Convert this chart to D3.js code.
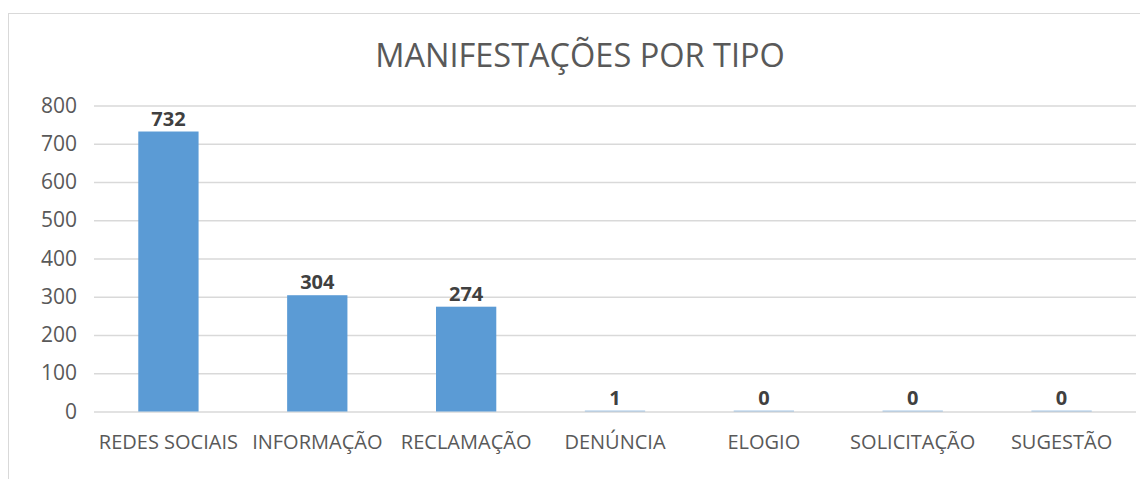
<!DOCTYPE html>
<html>
<head>
<meta charset="utf-8">
<script src="https://cdn.jsdelivr.net/npm/d3@7"></script>
<style>
  html, body { margin: 0; padding: 0; background: #fff; }
  svg { display: block; }
  text { font-family: "Open Sans", "Liberation Sans", sans-serif; }
</style>
</head>
<body>
<svg id="chart" width="1140" height="479"></svg>
<script>
const title = "MANIFESTAÇÕES POR TIPO";
const categories = ["REDES SOCIAIS", "INFORMAÇÃO", "RECLAMAÇÃO", "DENÚNCIA", "ELOGIO", "SOLICITAÇÃO", "SUGESTÃO"];
const values = [732, 304, 274, 1, 0, 0, 0];
const yTicks = [0, 100, 200, 300, 400, 500, 600, 700, 800];

const svg = d3.select("#chart");
const W = 1140, H = 479;
const margin = { left: 94, right: 4, top: 105.5, bottom: 67.5 };
const plotW = W - margin.left - margin.right;
const plotH = H - margin.top - margin.bottom;

// chart frame
svg.append("rect")
  .attr("x", 8.5).attr("y", 13.5)
  .attr("width", 1200).attr("height", 600)
  .attr("fill", "#fff").attr("stroke", "#D9D9D9").attr("stroke-width", 1);

const x = d3.scaleBand().domain(categories).range([margin.left, margin.left + plotW]).paddingInner(0.595).paddingOuter(0.2975);
const y = d3.scaleLinear().domain([0, 800]).range([margin.top + plotH, margin.top]);

// gridlines
svg.append("g")
  .attr("transform", `translate(${margin.left},0)`)
  .call(d3.axisLeft(y).tickValues(yTicks).tickSize(-plotW).tickFormat(""))
  .call(g => g.select(".domain").remove())
  .call(g => g.selectAll("line").attr("stroke", "#D9D9D9").attr("stroke-width", 1.3));

// y tick labels
const yAxis = svg.append("g")
  .attr("transform", `translate(${margin.left},0)`)
  .call(d3.axisLeft(y).tickValues(yTicks).tickSize(0).tickPadding(17));
yAxis.select(".domain").remove();
yAxis.selectAll("text")
  .attr("fill", "#595959").attr("font-size", 21)
  .attr("font-family", "'Open Sans', sans-serif");

// bars
svg.append("g").selectAll("rect")
  .data(values)
  .join("rect")
  .attr("x", (d, i) => x(categories[i]))
  .attr("width", x.bandwidth())
  .attr("y", d => Math.min(y(d), y(0) - 1))
  .attr("height", d => Math.max(y(0) - y(d), 1))
  .attr("fill", "#5B9BD5")
  .attr("opacity", d => (y(0) - y(d) < 1 ? 0.55 : 1));

// data labels
svg.append("g").selectAll("text")
  .data(values)
  .join("text")
  .attr("x", (d, i) => x(categories[i]) + x.bandwidth() / 2)
  .attr("y", d => Math.min(y(d), y(0) - 1) - 6)
  .attr("text-anchor", "middle")
  .attr("font-size", 20)
  .attr("font-weight", "bold")
  .attr("fill", "#404040")
  .text(d => d);

// x axis labels
const xAxis = svg.append("g")
  .attr("transform", `translate(0,${y(0)})`)
  .call(d3.axisBottom(x).tickSize(0).tickPadding(23));
xAxis.select(".domain").remove();
xAxis.selectAll("text")
  .attr("fill", "#595959").attr("font-size", 20)
  .attr("font-family", "'Open Sans', sans-serif");

// title
svg.append("text")
  .attr("x", 580).attr("y", 67)
  .attr("text-anchor", "middle")
  .attr("font-size", 32.5)
  .attr("fill", "#595959")
  .text(title);
</script>
</body>
</html>
